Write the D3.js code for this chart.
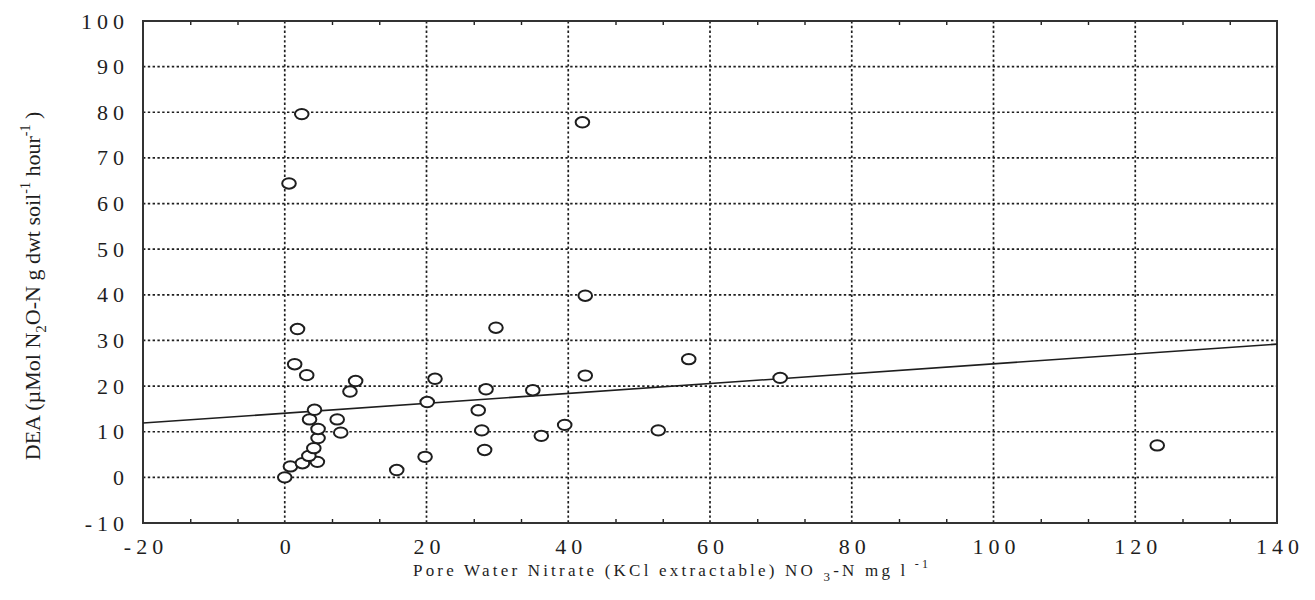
<!DOCTYPE html>
<html>
<head>
<meta charset="utf-8">
<script src="https://cdn.jsdelivr.net/npm/d3@7"></script>
<style>
  body { margin: 0; background: white; }
  svg { display: block; }
</style>
</head>
<body>
<main></main>
<script>
// nitrate (x) vs DEA (y)
let nitrate = [0, 0.8, 2.5, 4.6, 3.4, 4.1, 4.7, 4.7, 3.5, 4.2, 7.4, 7.9, 1.4, 3.1, 1.8,
    9.2, 10.0, 0.6, 2.4, 15.8, 19.8, 20.1, 21.2, 27.3, 27.8, 28.2, 28.4, 29.8, 35.0,
    36.2, 39.5, 42.0, 42.4, 42.4, 52.7, 57.0, 69.9, 123.1]
let dea = [0, 2.4, 3.1, 3.4, 4.7, 6.4, 8.6, 10.6, 12.7, 14.8, 12.7, 9.8, 24.8, 22.4, 32.5,
    18.8, 21.1, 64.4, 79.6, 1.6, 4.5, 16.5, 21.6, 14.7, 10.3, 6.0, 19.3, 32.8, 19.1,
    9.1, 11.5, 77.8, 39.8, 22.3, 10.3, 25.9, 21.8, 7.0]

// fitted line, read at both ends of the x range
let fitX = [-20, 140]
let fitY = [11.9, 29.2]

let xTicks = [-20, 0, 20, 40, 60, 80, 100, 120, 140]
let yTicks = [-10, 0, 10, 20, 30, 40, 50, 60, 70, 80, 90, 100]

const svgWidth = 1315
const svgHeight = 600

const plotLeft = 143
const plotRight = 1277
const plotTop = 21
const plotBottom = 523

const ink = "#1e1e1e"
const serif = "'Liberation Serif', 'DejaVu Serif', serif"

let svg = d3.select("main")
    .append("svg")
    .attr("width", svgWidth)
    .attr("height", svgHeight)
    .style("background-color", "white")

let xScale = d3.scaleLinear()
    .domain([-20, 140])
    .range([plotLeft, plotRight])

let yScale = d3.scaleLinear()
    .domain([-10, 100])
    .range([plotBottom, plotTop])

// dotted grid
let grid = svg.append("g")

grid.selectAll("line.gx")
    .data(xTicks.slice(1, -1))
    .enter()
    .append("line")
    .attr("class", "gx")
    .attr("x1", d => xScale(d))
    .attr("x2", d => xScale(d))
    .attr("y1", plotTop)
    .attr("y2", plotBottom)

grid.selectAll("line.gy")
    .data(yTicks.slice(1, -1))
    .enter()
    .append("line")
    .attr("class", "gy")
    .attr("x1", plotLeft)
    .attr("x2", plotRight)
    .attr("y1", d => yScale(d))
    .attr("y2", d => yScale(d))

grid.selectAll("line")
    .attr("stroke", ink)
    .attr("stroke-width", 1.7)
    .attr("stroke-dasharray", "2.4,2.4")

// minor ticks on top and bottom edges
let minor = []
for (let i = 0; i < xTicks.length - 1; i++) {
    let step = (xTicks[i + 1] - xTicks[i]) / 3
    minor.push(xTicks[i] + step, xTicks[i] + 2 * step)
}

let bottomMinor = d3.axisBottom(xScale).tickValues(minor).tickSize(-4).tickFormat("")
let topMinor = d3.axisTop(xScale).tickValues(minor).tickSize(-4).tickFormat("")

svg.append("g")
    .attr("transform", `translate(0, ${plotBottom})`)
    .call(bottomMinor)
    .call(g => g.select(".domain").remove())
    .selectAll("line").attr("stroke", ink).attr("stroke-width", 1.4)

svg.append("g")
    .attr("transform", `translate(0, ${plotTop})`)
    .call(topMinor)
    .call(g => g.select(".domain").remove())
    .selectAll("line").attr("stroke", ink).attr("stroke-width", 1.4)

// tick labels
let bottomAxis = d3.axisBottom(xScale)
    .tickValues(xTicks)
    .tickSize(0)
    .tickPadding(15)
    .tickFormat(d => d < 0 ? "-" + Math.abs(d) : d)

let xAxis = svg.append("g")
    .attr("transform", `translate(0, ${plotBottom})`)
    .call(bottomAxis)

let leftAxis = d3.axisLeft(yScale)
    .tickValues(yTicks)
    .tickSize(0)
    .tickPadding(14)
    .tickFormat(d => d < 0 ? "-" + Math.abs(d) : d)

let yAxis = svg.append("g")
    .attr("transform", `translate(${plotLeft}, 0)`)
    .call(leftAxis)

xAxis.select(".domain").remove()
yAxis.select(".domain").remove()

svg.selectAll(".tick text")
    .attr("fill", ink)
    .style("font-family", serif)
    .style("font-size", "22px")
    .style("letter-spacing", "5px")

xAxis.selectAll(".tick text").attr("dx", 2.5)

// frame
svg.append("rect")
    .attr("x", plotLeft)
    .attr("y", plotTop)
    .attr("width", plotRight - plotLeft)
    .attr("height", plotBottom - plotTop)
    .attr("fill", "none")
    .attr("stroke", "#333")
    .attr("stroke-width", 2)

// regression line
let line = d3.line()
    .x(d => xScale(d[0]))
    .y(d => yScale(d[1]))

svg.append("path")
    .datum(d3.zip(fitX, fitY))
    .attr("d", line)
    .attr("fill", "none")
    .attr("stroke", ink)
    .attr("stroke-width", 1.6)

// points
svg.append("g")
    .selectAll("ellipse")
    .data(d3.zip(nitrate, dea))
    .enter()
    .append("ellipse")
    .attr("cx", d => xScale(d[0]))
    .attr("cy", d => yScale(d[1]))
    .attr("rx", 6.8)
    .attr("ry", 5.2)
    .attr("fill", "white")
    .attr("stroke", ink)
    .attr("stroke-width", 2)

// x axis title
let xTitle = svg.append("text")
    .attr("x", 413)
    .attr("y", 576)
    .attr("fill", ink)
    .style("font-family", serif)
    .style("font-size", "17px")
    .style("letter-spacing", "3.2px")

xTitle.append("tspan").text("Pore Water Nitrate (KCl extractable) NO ")
xTitle.append("tspan").attr("dy", 5).style("font-size", "13px").text(" 3")
xTitle.append("tspan").attr("dy", -5).text("-N mg l")
xTitle.append("tspan").attr("dy", -8).style("font-size", "12px").text(" -1")

// y axis title
let yTitle = svg.append("text")
    .attr("transform", "translate(40, 286) rotate(-90)")
    .attr("text-anchor", "middle")
    .attr("fill", ink)
    .style("font-family", serif)
    .style("font-size", "22px")

yTitle.append("tspan").text("DEA (\u00b5Mol N")
yTitle.append("tspan").attr("dy", 6).style("font-size", "15px").text("2")
yTitle.append("tspan").attr("dy", -6).text("O-N g dwt soil")
yTitle.append("tspan").attr("dy", -10).style("font-size", "14px").text("-1")
yTitle.append("tspan").attr("dy", 10).text("  hour")
yTitle.append("tspan").attr("dy", -10).style("font-size", "14px").text("-1")
yTitle.append("tspan").attr("dy", 10).text(" )")
</script>
</body>
</html>
